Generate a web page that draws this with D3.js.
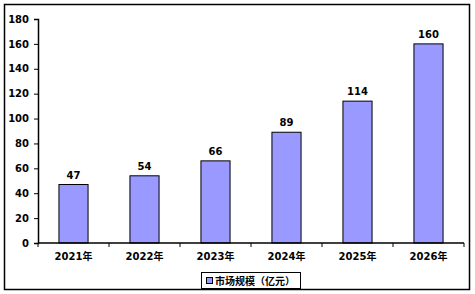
<!DOCTYPE html>
<html>
<head>
<meta charset="utf-8">
<script src="https://cdn.jsdelivr.net/npm/d3@7"></script>
<style>
  body { margin: 0; background: #fff; }
  text { font-family: "DejaVu Sans", "Noto Sans CJK SC", sans-serif; font-weight: bold; fill: #000; }
</style>
</head>
<body>
<svg id="chart" width="475" height="294"></svg>
<script>
const years = ["2021年", "2022年", "2023年", "2024年", "2025年", "2026年"];
const values = [47, 54, 66, 89, 114, 160];
const yTicks = [0, 20, 40, 60, 80, 100, 120, 140, 160, 180];
const seriesName = "市场规模（亿元）";

const svg = d3.select("#chart");
const margin = { left: 38, right: 11, top: 19, bottom: 51 };
const width = 475, height = 294;

// outer frame
svg.append("rect")
    .attr("x", 4.5).attr("y", 4.5)
    .attr("width", 465).attr("height", 285)
    .attr("fill", "none").attr("stroke", "#000").attr("stroke-width", 1.5);

const x = d3.scaleBand()
    .domain(years)
    .range([margin.left, width - margin.right]);

const y = d3.scaleLinear()
    .domain([0, 180])
    .range([height - margin.bottom, margin.top]);

// bars
const barW = x.bandwidth() * 0.41;
svg.selectAll(".bar")
    .data(values)
    .enter()
    .append("rect")
    .attr("class", "bar")
    .attr("x", (d, i) => x(years[i]) + (x.bandwidth() - barW) / 2)
    .attr("y", d => y(d))
    .attr("width", barW)
    .attr("height", d => y(0) - y(d))
    .attr("fill", "#9999FF")
    .attr("stroke", "#000")
    .attr("stroke-width", 1);

// value labels
svg.selectAll(".val")
    .data(values)
    .enter()
    .append("text")
    .attr("class", "val")
    .attr("x", (d, i) => x(years[i]) + x.bandwidth() / 2)
    .attr("y", d => y(d) - 6)
    .attr("text-anchor", "middle")
    .style("font-size", "10px")
    .text(d => d);

// y axis
const yAxis = svg.append("g")
    .attr("transform", `translate(${margin.left},0)`)
    .call(d3.axisLeft(y).tickValues(yTicks).tickSize(4).tickPadding(5));
yAxis.selectAll("text").style("font-size", "10px");

// x axis line with ticks at category boundaries
const xAxis = svg.append("g")
    .attr("transform", `translate(0,${y(0)})`);
xAxis.append("line")
    .attr("x1", margin.left).attr("x2", width - margin.right)
    .attr("stroke", "#000").attr("stroke-width", 1.5);
const bounds = years.map(d => x(d)).concat([x(years[years.length - 1]) + x.bandwidth()]);
xAxis.selectAll(".xt")
    .data(bounds)
    .enter()
    .append("line")
    .attr("x1", d => d).attr("x2", d => d)
    .attr("y1", 0).attr("y2", 4)
    .attr("stroke", "#000");
xAxis.selectAll(".xl")
    .data(years)
    .enter()
    .append("text")
    .attr("x", d => x(d) + x.bandwidth() / 2)
    .attr("y", 17)
    .attr("text-anchor", "middle")
    .style("font-size", "10px")
    .text(d => d);

yAxis.select(".domain").attr("stroke-width", 1.5);

// legend
const lg = svg.append("g").attr("transform", "translate(201,272)");
lg.append("rect")
    .attr("x", 0.5).attr("y", 0.5)
    .attr("width", 99).attr("height", 16)
    .attr("fill", "#fff").attr("stroke", "#000");
lg.append("rect")
    .attr("x", 5.5).attr("y", 5.5)
    .attr("width", 6).attr("height", 6)
    .attr("fill", "#9999FF").attr("stroke", "#000");
lg.append("text")
    .attr("x", 14).attr("y", 12.5)
    .style("font-size", "10px")
    .text(seriesName);
</script>
</body>
</html>
